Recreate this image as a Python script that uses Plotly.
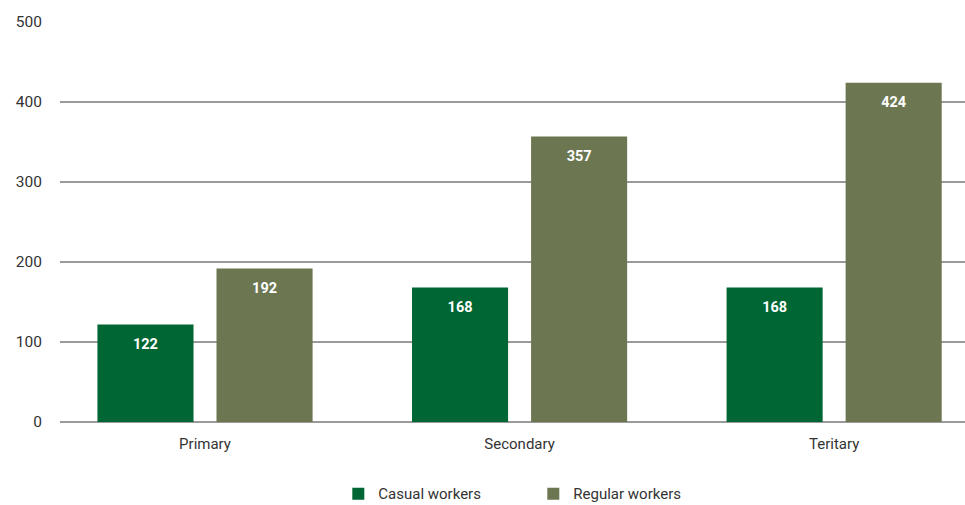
import plotly.graph_objects as go

sectors = ["Primary", "Secondary", "Teritary"]
casual_workers = [122, 168, 168]
regular_workers = [192, 357, 424]
y_ticks = [0, 100, 200, 300, 400, 500]

casual_color = "#006634"
regular_color = "#6c7751"
font_family = "Roboto, 'Liberation Sans', Arial, sans-serif"

fig = go.Figure()

fig.add_trace(go.Bar(
    x=sectors, y=casual_workers, name="Casual workers",
    marker=dict(color=casual_color, line=dict(width=0)),
    offsetgroup="casual", alignmentgroup="a",
))
fig.add_trace(go.Bar(
    x=sectors, y=regular_workers, name="Regular workers",
    marker=dict(color=regular_color, line=dict(width=0)),
    offsetgroup="regular", alignmentgroup="a",
))

# value labels just inside the top of each bar (transparent marker pads the text down)
for vals, grp in [(casual_workers, "casual"), (regular_workers, "regular")]:
    fig.add_trace(go.Scatter(
        x=sectors, y=vals, mode="markers+text", text=[str(v) for v in vals],
        marker=dict(size=20, opacity=0),
        textposition="bottom center",
        textfont=dict(color="white", size=14.5, family=font_family, weight="bold"),
        offsetgroup=grp, alignmentgroup="a",
        showlegend=False, hoverinfo="skip", cliponaxis=False,
    ))

fig.update_layout(
    width=965, height=505,
    margin=dict(l=60, r=0, t=22, b=83, autoexpand=False),
    paper_bgcolor="white", plot_bgcolor="white",
    barmode="group", scattermode="group",
    bargap=0.243, bargroupgap=0.193, scattergap=0.243,
    font=dict(family=font_family, size=15, color="#333333"),
    showlegend=True,
    legend=dict(
        orientation="h", x=0.523, xanchor="center",
        yref="container", y=0.022, yanchor="middle",
        font=dict(size=15, color="#333333"), entrywidth=150, entrywidthmode="pixels",
        traceorder="normal",
    ),
)

fig.update_xaxes(
    range=[-0.461, 2.416], showgrid=False, zeroline=False, showline=False,
    ticks="", ticklabelstandoff=11, automargin=False,
    tickfont=dict(size=15, color="#333333"),
)
fig.update_yaxes(
    range=[0, 500], tickvals=y_ticks, showgrid=True, gridcolor="#9a9a9a",
    gridwidth=1.5, zeroline=True, zerolinecolor="#9a9a9a", zerolinewidth=1.5,
    showline=False, ticks="", ticklabelstandoff=17, automargin=False,
    tickfont=dict(size=15.5, color="#333333"),
)

fig.write_html("out.html")
